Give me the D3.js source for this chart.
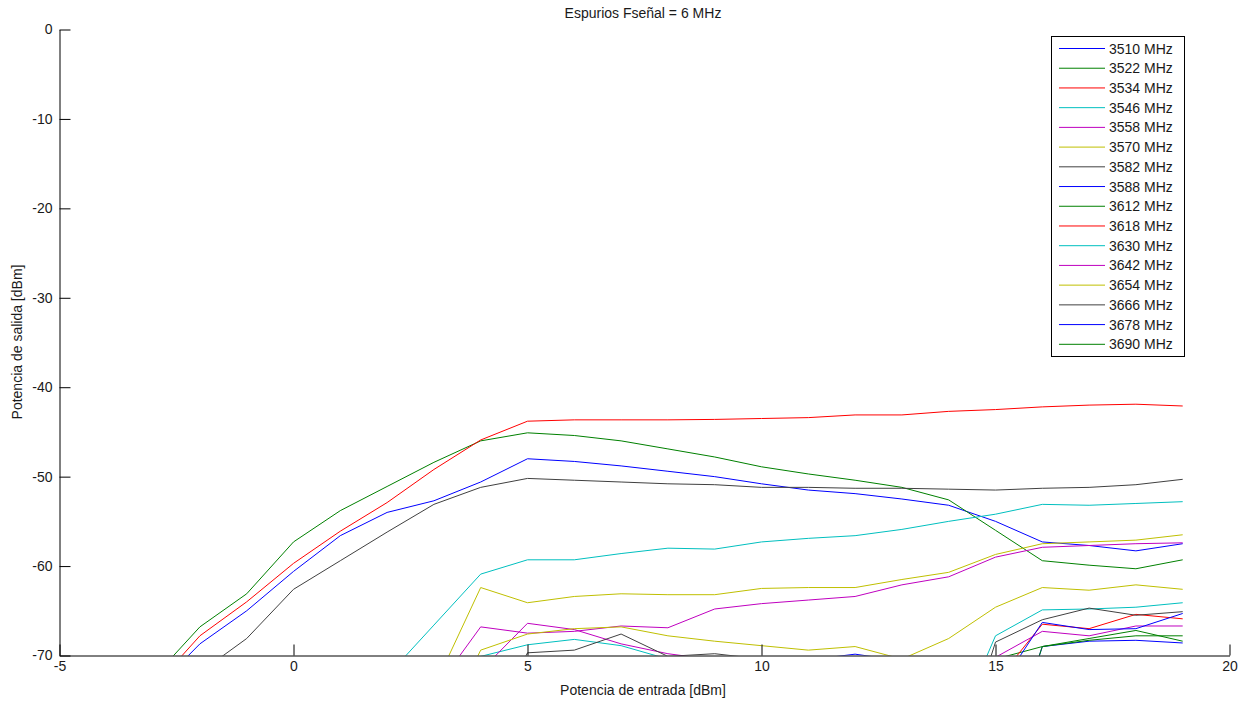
<!DOCTYPE html>
<html>
<head>
<meta charset="utf-8">
<script src="https://cdn.jsdelivr.net/npm/d3@7"></script>
<style>
  html, body { margin: 0; padding: 0; background: #fff; }
  svg { display: block; font-family: "Liberation Sans", Arial, sans-serif; }
</style>
</head>
<body>
<svg id="chart" width="1249" height="702"></svg>
<script>
// ---------------- data ----------------
const xValues = [-3, -2, -1, 0, 1, 2, 3, 4, 5, 6, 7, 8, 9, 10, 11, 12, 13, 14, 15, 16, 17, 18, 19];
const N = null;

const s3510 = [-74, -68.7, -65.0, -60.6, -56.6, -54.0, -52.7, -50.6, -48.0, -48.3, -48.8, -49.4, -50.0, -50.8, -51.5, -51.9, -52.5, -53.2, -55.0, -57.3, -57.7, -58.3, -57.5];
const s3522 = [-72.5, -66.8, -63.1, -57.3, -53.8, -51.1, -48.4, -46.0, -45.1, -45.4, -46.0, -46.9, -47.8, -48.9, -49.7, -50.4, -51.2, -52.6, -56.0, -59.4, -59.9, -60.3, -59.3];
const s3534 = [-73.6, -67.8, -64.0, -59.7, -56.1, -52.9, -49.2, -45.9, -43.8, -43.65, -43.65, -43.65, -43.6, -43.5, -43.4, -43.1, -43.1, -42.7, -42.5, -42.2, -42.0, -41.9, -42.1];
const s3546 = [N, N, N, N, N, -72.3, -66.6, -60.9, -59.3, -59.3, -58.6, -58.0, -58.1, -57.3, -56.9, -56.6, -55.9, -55.0, -54.2, -53.1, -53.2, -53.0, -52.8];
const s3558 = [N, N, N, N, N, N, -74, -66.8, -67.5, -67.3, -66.7, -66.9, -64.8, -64.2, -63.8, -63.4, -62.1, -61.2, -59.0, -57.9, -57.7, -57.5, -57.4];
const s3570 = [N, N, N, N, N, N, -73.6, -62.4, -64.1, -63.4, -63.1, -63.2, -63.2, -62.5, -62.4, -62.4, -61.5, -60.7, -58.7, -57.5, -57.3, -57.1, -56.5];
const s3582 = [N, -71.9, -68.1, -62.6, -59.4, -56.2, -53.1, -51.2, -50.2, -50.4, -50.6, -50.8, -50.9, -51.2, -51.2, -51.3, -51.3, -51.4, -51.5, -51.3, -51.2, -50.9, -50.3];
const s3588 = [N, N, N, N, N, N, N, N, N, N, N, N, N, N, -70.5, -69.85, -70.6, -80, -85, -69.0, -68.4, -68.3, -68.6];
const s3612 = [N, N, N, N, N, N, N, N, N, N, N, N, N, N, N, N, N, -75, -70.4, -69.0, -68.1, -67.2, -68.4];
const s3618 = [N, N, N, N, N, N, N, N, N, N, N, N, N, N, N, N, N, N, -73.0, -66.5, -67.0, -65.4, -65.9];
const s3630 = [N, N, N, N, N, N, -80, -70.1, -68.8, -68.2, -68.9, -70.4, N, N, N, N, N, -80, -67.8, -64.9, -64.8, -64.6, -64.1];
const s3642 = [N, N, N, N, N, N, N, -71.7, -66.4, -67.1, -68.7, -69.8, -70.5, N, N, N, N, -76, -70.2, -67.3, -67.8, -66.7, -66.7];
const s3654 = [N, N, N, N, N, N, -80, -69.4, -67.6, -67.0, -66.8, -67.8, -68.4, -68.9, -69.4, -69.0, -70.4, -68.1, -64.6, -62.4, -62.7, -62.1, -62.6];
const s3666 = [N, N, N, N, N, N, N, -80, -69.7, -69.4, -67.6, -70.1, -69.8, -70.4, N, N, N, -85, -68.5, -66.0, -64.7, -65.5, -65.1];
const s3678 = [N, N, N, N, N, N, N, N, N, N, N, N, N, N, N, N, N, N, -74.2, -66.3, -67.1, -67.0, -65.3];
const s3690 = [N, N, N, N, N, N, N, N, N, N, N, N, N, N, N, N, N, N, -85, -69.0, -68.3, -67.8, -67.8];

const seriesNames = ["3510 MHz", "3522 MHz", "3534 MHz", "3546 MHz", "3558 MHz", "3570 MHz", "3582 MHz",
  "3588 MHz", "3612 MHz", "3618 MHz", "3630 MHz", "3642 MHz", "3654 MHz", "3666 MHz", "3678 MHz", "3690 MHz"];
const seriesValues = [s3510, s3522, s3534, s3546, s3558, s3570, s3582,
  s3588, s3612, s3618, s3630, s3642, s3654, s3666, s3678, s3690];
const palette = ["#0000ff", "#008000", "#ff0000", "#00bfbf", "#bf00bf", "#bfbf00", "#404040"];

const xTicks = [-5, 0, 5, 10, 15, 20];
const yTicks = [0, -10, -20, -30, -40, -50, -60, -70];
const titleText = "Espurios Fseñal = 6 MHz";
const xLabel = "Potencia de entrada [dBm]";
const yLabel = "Potencia de salida [dBm]";

// ---------------- chart ----------------
(function () {
  const svg = d3.select("#chart");
  const pL = 59.5, pR = 1229.5, pT = 29.5, pB = 655.5;
  const x = d3.scaleLinear().domain([-5, 20]).range([pL, pR]);
  const y = d3.scaleLinear().domain([-70, 0]).range([pB, pT]);
  const FS = 14;

  svg.append("defs").append("clipPath").attr("id", "plotclip")
    .append("rect").attr("x", pL).attr("y", pT - 1).attr("width", pR - pL).attr("height", pB - pT + 1);

  const line = d3.line()
    .defined(d => d[1] !== null)
    .x(d => x(d[0]))
    .y(d => y(d[1]));

  const g = svg.append("g").attr("clip-path", "url(#plotclip)");
  seriesValues.forEach((vals, i) => {
    const pts = xValues.map((xv, j) => [xv, vals[j]]);
    g.append("path")
      .attr("d", line(pts))
      .attr("fill", "none")
      .attr("stroke", palette[i % palette.length])
      .attr("stroke-width", 1);
  });

  const fmt = d => String(d);
  const xAxis = d3.axisBottom(x).tickValues(xTicks).tickSizeInner(-11).tickSizeOuter(0).tickPadding(6).tickFormat(fmt);
  const yAxis = d3.axisLeft(y).tickValues(yTicks).tickSizeInner(-11).tickSizeOuter(0).tickPadding(7).tickFormat(fmt);

  const gx = svg.append("g").attr("transform", `translate(0,${pB})`).call(xAxis);
  const gy = svg.append("g").attr("transform", `translate(${pL},0)`).call(yAxis);
  [gx, gy].forEach(a => {
    a.selectAll("path.domain").attr("stroke", "#000").attr("stroke-width", 1);
    a.selectAll(".tick line").attr("stroke", "#000");
    a.selectAll("text").attr("font-size", FS).attr("fill", "#1a1a1a")
      .attr("font-family", "'Liberation Sans', Arial, sans-serif");
  });

  svg.append("text").attr("x", 643).attr("y", 18).attr("text-anchor", "middle")
    .attr("font-size", FS).attr("fill", "#1a1a1a").text(titleText);
  svg.append("text").attr("x", 643).attr("y", 695).attr("text-anchor", "middle")
    .attr("font-size", FS).attr("fill", "#1a1a1a").text(xLabel);
  svg.append("text").attr("transform", "translate(22,342) rotate(-90)").attr("text-anchor", "middle")
    .attr("font-size", FS).attr("fill", "#1a1a1a").text(yLabel);

  const lg = svg.append("g");
  lg.append("rect").attr("x", 1051.5).attr("y", 36.5).attr("width", 133).attr("height", 320)
    .attr("fill", "#fff").attr("stroke", "#000").attr("stroke-width", 1);
  seriesNames.forEach((name, i) => {
    const cy = 48.5 + i * 19.72;
    lg.append("line").attr("x1", 1059).attr("x2", 1105).attr("y1", cy).attr("y2", cy)
      .attr("stroke", palette[i % palette.length]).attr("stroke-width", 1);
    lg.append("text").attr("x", 1109).attr("y", cy).attr("dy", "0.36em")
      .attr("font-size", FS).attr("fill", "#1a1a1a").text(name);
  });
})();
</script>
</body>
</html>
